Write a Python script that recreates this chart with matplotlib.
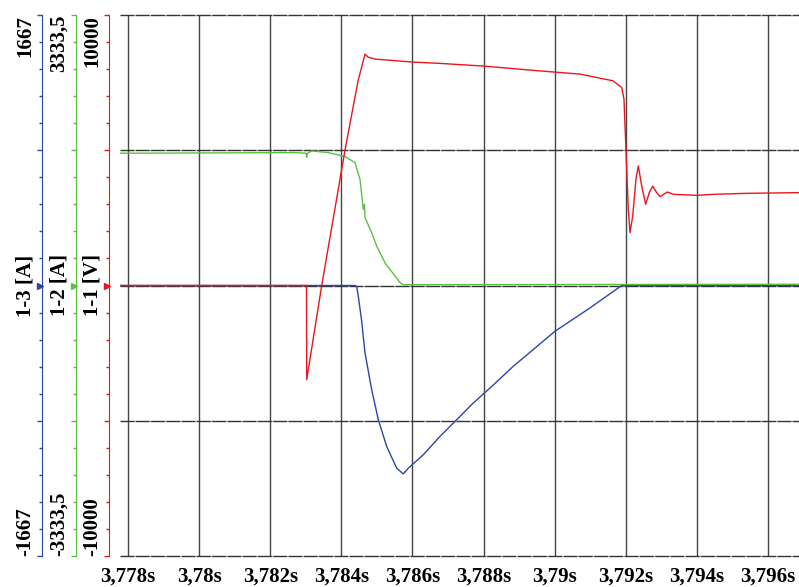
import matplotlib.pyplot as plt
import numpy as np
from matplotlib.transforms import ScaledTranslation

# channel 1-1 [V] (red)
t_red = [3.777775, 3.783020, 3.783026, 3.783448, 3.784103, 3.784469, 3.784666,
         3.784750, 3.784947, 3.786016, 3.786775, 3.788012, 3.789306, 3.790712,
         3.791641, 3.791885, 3.791950, 3.791978, 3.792006, 3.792026, 3.792071,
         3.792119, 3.792195, 3.792287, 3.792352, 3.792448, 3.792560, 3.792661,
         3.792757, 3.792870, 3.792962, 3.793168, 3.793336, 3.793995, 3.794453,
         3.795401, 3.796872]
v_red = [0, 0, -3481, 0, 5000, 7556, 8556,
         8444, 8370, 8259, 8211, 8111, 7963, 7815,
         7567, 7322, 6889, 5900, 5037, 4296, 2815,
         1952, 2567, 3926, 4419, 3678, 3000, 3433,
         3678, 3433, 3285, 3456, 3370, 3333, 3370,
         3407, 3433]

# channel 1-2 [A] (green)
t_green = [3.777775, 3.782697, 3.783006, 3.783026, 3.783048, 3.783166, 3.783625,
           3.784103, 3.784384, 3.784525, 3.784618, 3.784652, 3.784666, 3.784854,
           3.784995, 3.785228, 3.785369, 3.785650, 3.785734, 3.796872]
v_green = [1630, 1638, 1630, 1577, 1630, 1658, 1638,
           1589, 1515, 1309, 938, 1000, 836, 651,
           485, 280, 198, 37, 10, 15]

# channel 1-3 [A] (blue)
t_blue = [3.777775, 3.784384, 3.784432, 3.784477, 3.784567, 3.784666, 3.784854,
          3.785040, 3.785276, 3.785557, 3.785743, 3.785883, 3.786305, 3.786775,
          3.787245, 3.787711, 3.788181, 3.788836, 3.790009, 3.790994, 3.791885,
          3.796872]
v_blue = [0, 0, -6, -66, -210, -416, -642,
          -827, -992, -1126, -1161, -1126, -1043, -930,
          -827, -724, -632, -498, -282, -138, 0,
          0]

x_ticks = [3.778, 3.780, 3.782, 3.784, 3.786, 3.788, 3.790, 3.792, 3.794, 3.796]
x_labels = ['3,778s', '3,78s', '3,782s', '3,784s', '3,786s', '3,788s',
            '3,79s', '3,792s', '3,794s', '3,796s']

red_lim, green_lim, blue_lim = 10000, 3333.5, 1667
red_labels = ['-10000', '1-1 [V]', '10000']
green_labels = ['-3333,5', '1-2 [A]', '3333,5']
blue_labels = ['-1667', '1-3 [A]', '1667']
grid_levels = [-10000, -5000, 0, 5000, 10000]

RED = '#e8161e'
GREEN = '#5cbf45'
BLUE = '#2b46a6'

plt.rcParams['font.family'] = ['Liberation Serif', 'DejaVu Serif']
plt.rcParams['font.weight'] = 'bold'

fig = plt.figure(figsize=(7.99, 5.87), dpi=100)
ax = fig.add_axes([120/799, 31/587, 679/799, 541/587])
ax_b = ax.twinx()
ax_g = ax.twinx()
ax_r = ax.twinx()

ax.set_xlim(3.777775, 3.796872)
ax.set_ylim(-red_lim, red_lim)
ax_r.set_ylim(-red_lim, red_lim)
ax_g.set_ylim(-green_lim, green_lim)
ax_b.set_ylim(-blue_lim, blue_lim)

ax_b.plot(t_blue, v_blue, color=BLUE, lw=1.0)
ax_g.plot(t_green, v_green, color=GREEN, lw=1.0)
ax_r.plot(t_red, v_red, color=RED, lw=1.0)

# grid + time axis
ax.set_xticks(x_ticks, x_labels)
ax.grid(True, axis='x', color='#454545', lw=1.0)
for lev in grid_levels:
    ax.axhline(lev, color='#333333', lw=1.0, ls=(0, (10, 1)), gapcolor='#a8a8a8',
               clip_on=False)
ax.tick_params(axis='x', length=0, pad=3, labelsize=15)
ax.spines['bottom'].set_position(('outward', 4.8))
ax.spines['bottom'].set_color(BLUE)
ax.spines['bottom'].set_linewidth(1.7)
ax.spines['top'].set_visible(False)
ax.spines['right'].set_visible(False)

for s in ax_r.spines.values():
    s.set_visible(False)
ax_r.set_yticks([])


def style_axis(a, lim, labels, color, offset_px):
    for s in ('top', 'right', 'bottom'):
        a.spines[s].set_visible(False)
    sp = a.spines['left']
    sp.set_visible(True)
    sp.set_position(('outward', offset_px * 0.72))
    sp.set_color(color)
    a.yaxis.tick_left()
    a.set_yticks([-lim, -lim / 2, 0, lim / 2, lim],
                 [labels[0], '', labels[1], '', labels[2]])
    a.set_yticks(np.linspace(-lim, lim, 21), minor=True)
    a.tick_params(axis='y', which='major', length=3.5, width=1, color=color,
                  pad=1.5, labelsize=15, labelrotation=90)
    a.tick_params(axis='y', which='minor', length=2, width=1, color=color)
    tl = a.get_yticklabels()
    tl[0].set_va('bottom')
    tl[2].set_va('center')
    tl[4].set_va('top')
    # little arrow at zero
    tr = a.get_yaxis_transform() + ScaledTranslation(-(offset_px + 2) / 100, 0,
                                                      fig.dpi_scale_trans)
    a.plot([0], [0], marker='>', ms=4, color=color, transform=tr, clip_on=False)


style_axis(ax, red_lim, red_labels, RED, 11)
style_axis(ax_g, green_lim, green_labels, GREEN, 44)
style_axis(ax_b, blue_lim, blue_labels, BLUE, 78)

fig.savefig('out.png', dpi=100)
